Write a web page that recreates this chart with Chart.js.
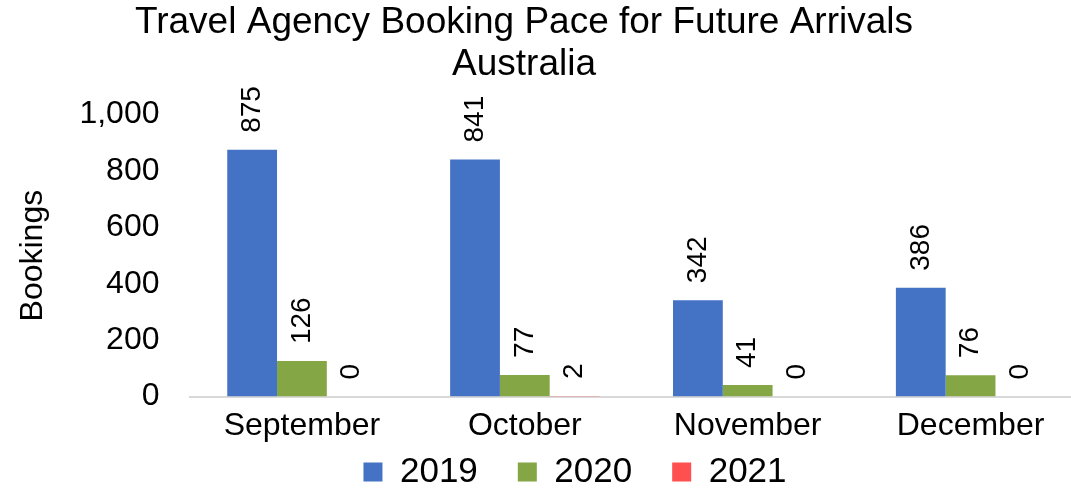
<!DOCTYPE html>
<html>
<head>
<meta charset="utf-8">
<script src="https://cdn.jsdelivr.net/npm/chart.js@4/dist/chart.umd.min.js"></script>
<style>
  html, body { margin: 0; padding: 0; background: #fff; overflow: hidden; }
  #wrap { width: 1116px; height: 492px; margin-left: -34px; }
</style>
</head>
<body>
<div id="wrap"><canvas id="bookingChart"></canvas></div>
<script>
const months = ["September", "October", "November", "December"];
const years = ["2019", "2020", "2021"];
const bookings2019 = [875, 841, 342, 386];
const bookings2020 = [126, 77, 41, 76];
const bookings2021 = [0, 2, 0, 0];
const yTicks = [0, 200, 400, 600, 800, 1000];

const FONT = "'Liberation Sans', Arial, sans-serif";

// rotated value labels above each bar
const barLabels = {
  id: "barLabels",
  afterDatasetsDraw(chart) {
    const ctx = chart.ctx;
    ctx.save();
    ctx.font = "28px " + FONT;
    ctx.fillStyle = "#000";
    ctx.textAlign = "left";
    ctx.textBaseline = "middle";
    chart.data.datasets.forEach((ds, i) => {
      chart.getDatasetMeta(i).data.forEach((bar, j) => {
        ctx.save();
        ctx.translate(bar.x, bar.y - 17);
        ctx.rotate(-Math.PI / 2);
        ctx.fillText(ds.data[j].toLocaleString("en-US"), 0, 0);
        ctx.restore();
      });
    });
    ctx.restore();
  }
};

// move legend to where the original sits (slightly right of centre)
const legendPlace = {
  id: "legendPlace",
  afterLayout(chart) {
    const lg = chart.legend;
    lg.left += 51;
    lg.right += 51;
    lg.top = 472 - 40 - 35 / 2;
  }
};

const ctx = document.getElementById("bookingChart").getContext("2d");
new Chart(ctx, {
  type: "bar",
  data: {
    labels: months,
    datasets: [
      { label: years[0], data: bookings2019, backgroundColor: "#4472C4" },
      { label: years[1], data: bookings2020, backgroundColor: "#85A644" },
      { label: years[2], data: bookings2021, backgroundColor: "#FF5050" }
    ]
  },
  options: {
    responsive: true,
    maintainAspectRatio: false,
    animation: false,
    layout: { padding: 0 },
    datasets: {
      bar: { categoryPercentage: 0.67, barPercentage: 1 }
    },
    plugins: {
      title: {
        display: true,
        text: ["Travel Agency Booking Pace for Future Arrivals", "Australia"],
        color: "#000",
        font: { family: FONT, size: 37, weight: "normal", lineHeight: 1.13 },
        padding: { top: 2, bottom: 29 }
      },
      legend: {
        position: "bottom",
        maxHeight: 45,
        labels: {
          color: "#000",
          font: { family: FONT, size: 35 },
          boxWidth: 19,
          boxHeight: 19,
          padding: 40
        }
      },
      tooltip: { enabled: false }
    },
    scales: {
      x: {
        grid: { display: false },
        border: { color: "#d9d9d9", width: 2 },
        ticks: { color: "#000", font: { family: FONT, size: 32 }, padding: 2 }
      },
      y: {
        min: 0,
        max: 1000,
        afterBuildTicks: (axis) => { axis.ticks = yTicks.map((v) => ({ value: v })); },
        grid: { display: false },
        border: { display: false },
        ticks: {
          color: "#000",
          font: { family: FONT, size: 32 },
          padding: 23,
          callback: (v) => v.toLocaleString("en-US")
        },
        title: {
          display: true,
          text: "Bookings",
          color: "#000",
          font: { family: FONT, size: 32 },
          padding: { top: 48, bottom: 4 }
        }
      }
    }
  },
  plugins: [barLabels, legendPlace]
});
</script>
</body>
</html>
